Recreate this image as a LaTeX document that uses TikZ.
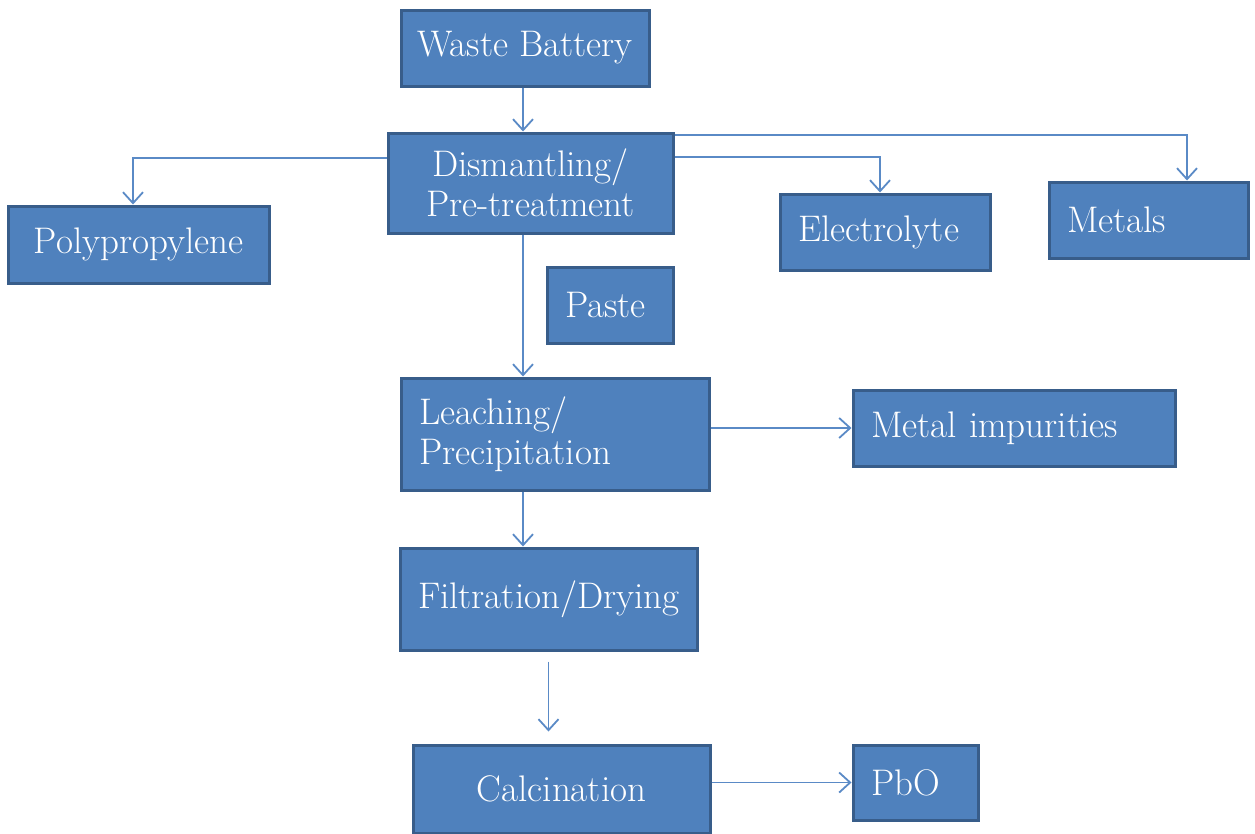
\documentclass[tikz,border=0pt]{standalone}
\usetikzlibrary{arrows.meta}
\definecolor{boxfill}{HTML}{4F81BD}
\definecolor{boxedge}{HTML}{385D8A}
\definecolor{linkblue}{HTML}{5A8AC6}

\begin{document}
\begin{tikzpicture}[x=1pt,y=-1pt,
  box/.style={draw=boxedge, fill=boxfill, line width=3pt, text=white,
    inner sep=0pt, font=\fontsize{37}{40}\selectfont},
  link/.style={draw=linkblue, line width=1.8pt,
    -{Straight Barb[length=11pt,width=20pt,line width=1.8pt]}}
]
\useasboundingbox (0,0) rectangle (1255,833);

% process boxes
\node[box, minimum width=248pt, minimum height=76pt] (waste) at (525,48) {Waste Battery};
\node[box, minimum width=285pt, minimum height=100pt, align=center] (dism) at (530.5,183) {Dismantling/\\Pre-treatment};
\node[box, minimum width=261pt, minimum height=77pt] (poly) at (138.5,244.5) {Polypropylene};
\node[box, minimum width=210pt, minimum height=76pt, text width=174pt, align=left] (elec) at (885,232) {Electrolyte};
\node[box, minimum width=199pt, minimum height=76pt, text width=163pt, align=left] (metals) at (1148.5,220) {Metals};
\node[box, minimum width=126pt, minimum height=76pt, text width=90pt, align=left] (paste) at (610,305) {Paste};
\node[box, minimum width=308pt, minimum height=112pt, text width=272pt, align=left] (leach) at (555,434) {Leaching/\\Precipitation};
\node[box, minimum width=322pt, minimum height=76pt, text width=286pt, align=left] (metimp) at (1014,428) {Metal impurities};
\node[box, minimum width=297pt, minimum height=102pt, text width=261pt, align=left] (filt) at (548.5,599) {Filtration/Drying};
\node[box, minimum width=297pt, minimum height=88pt] (calc) at (561.5,789) {Calcination};
\node[box, minimum width=125pt, minimum height=75pt, text width=89pt, align=left] (pbo) at (915.5,782.5) {PbO};

% main vertical flow line
\coordinate (spine) at (523,0);

% connectors
\draw[link] (spine |- waste.south) -- (spine |- dism.north);
\draw[link] ([yshift=25pt]dism.west) -| ([xshift=-5.5pt]poly.north);
\draw[link] ([yshift=26pt]dism.east) -| ([xshift=-5pt]elec.north);
\draw[link] ([yshift=48pt]dism.east) -| ([xshift=38.5pt]metals.north);
\draw[link] (spine |- dism.south) -- (spine |- leach.north);
\draw[link] (leach.east |- metimp.west) -- (metimp.west);
\draw[link] (spine |- leach.south) -- (spine |- filt.north);
\draw[link] ([yshift=-10pt]filt.south) -- ([yshift=12pt]filt.south |- calc.north);
\draw[link] (calc.east |- pbo.west) -- (pbo.west);
\end{tikzpicture}
\end{document}
